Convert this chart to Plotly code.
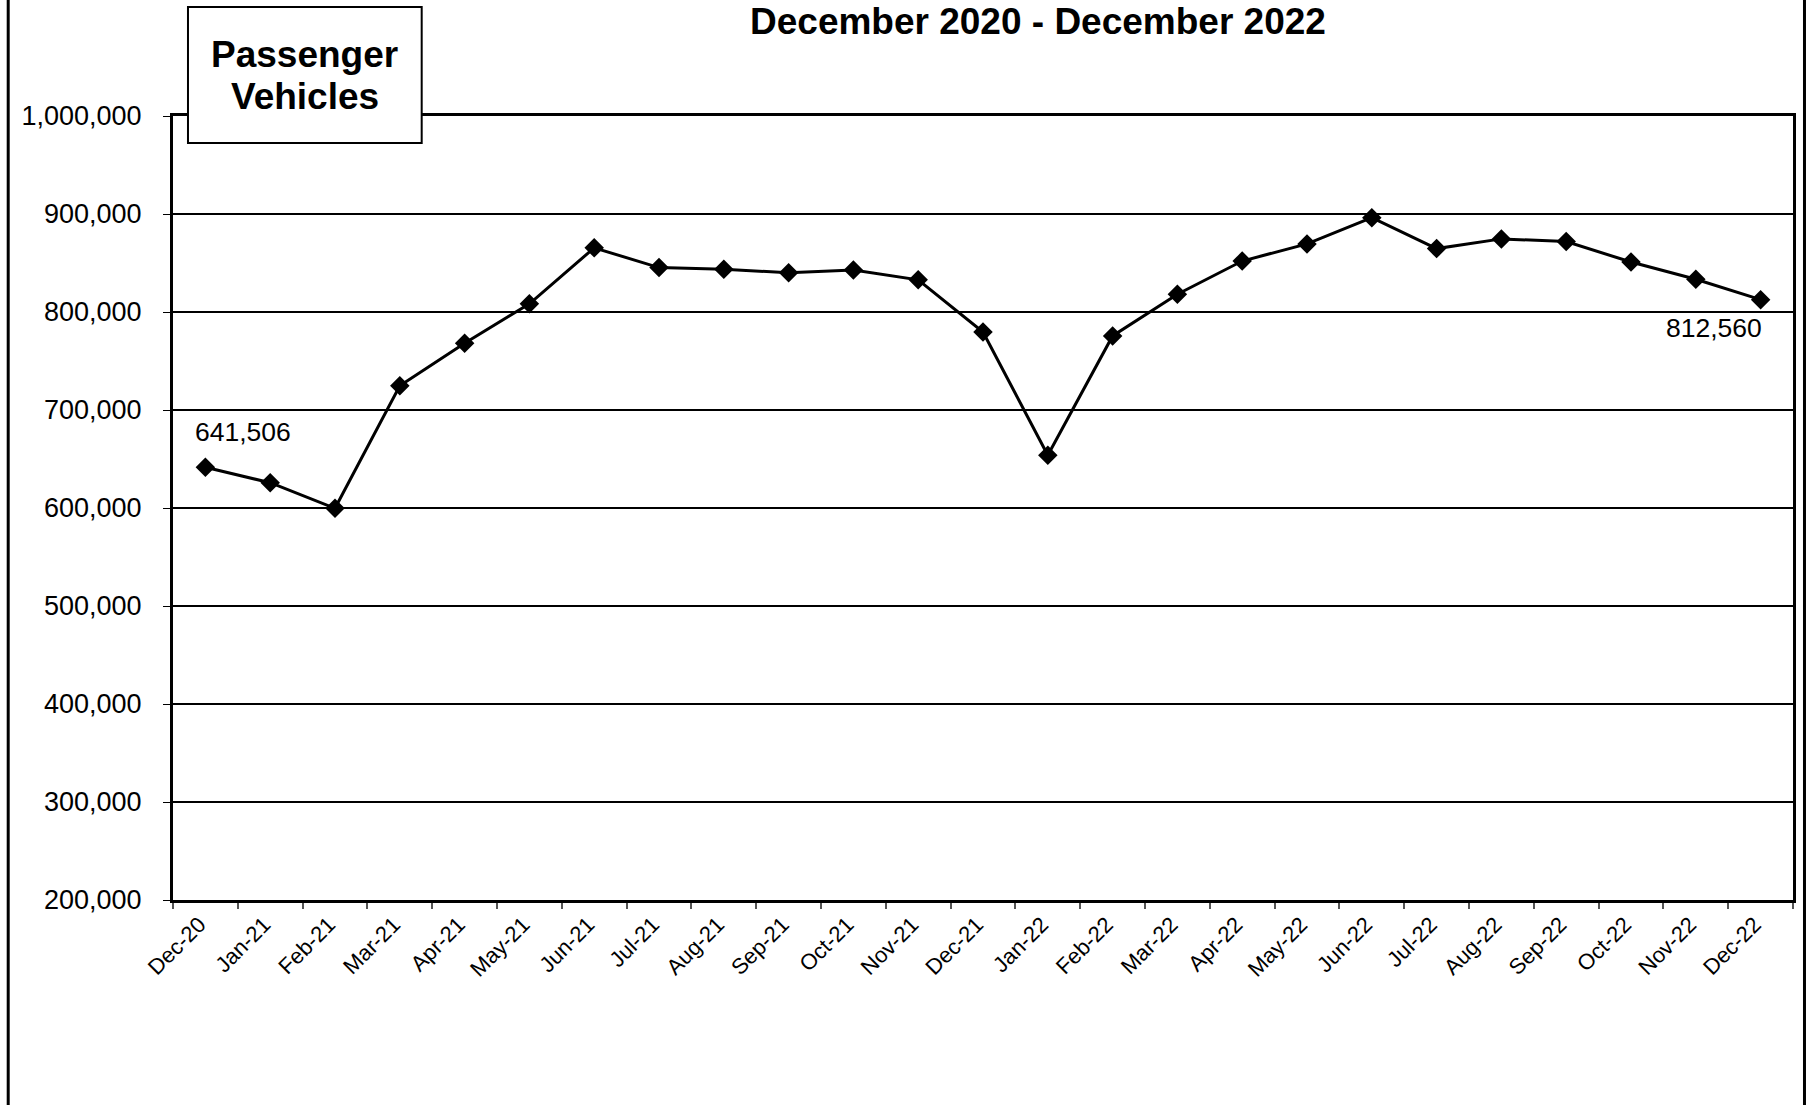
import plotly.graph_objects as go

# Monthly passenger vehicle totals
months = [
    "Dec-20", "Jan-21", "Feb-21", "Mar-21", "Apr-21", "May-21", "Jun-21",
    "Jul-21", "Aug-21", "Sep-21", "Oct-21", "Nov-21", "Dec-21", "Jan-22",
    "Feb-22", "Mar-22", "Apr-22", "May-22", "Jun-22", "Jul-22", "Aug-22",
    "Sep-22", "Oct-22", "Nov-22", "Dec-22",
]
passenger_vehicles = [
    641506, 625800, 599700, 724800, 768200, 808400, 865500,
    845300, 843700, 840000, 842900, 832800, 779500, 653900,
    775600, 818100, 852000, 869500, 896300, 864700, 874600,
    871900, 851000, 833400, 812560,
]
y_ticks = [200000, 300000, 400000, 500000, 600000, 700000, 800000, 900000, 1000000]

title_text = "December 2020 - December 2022"
box_lines = ["Passenger", "Vehicles"]

FONT = "Arial, Liberation Sans, sans-serif"

# page geometry (pixels)
W, H = 1808, 1105
PL, PR, PT, PB = 173, 1795, 116, 900


def px_x(p):
    return (p - PL) / (PR - PL)


def px_y(p):
    return (PB - p) / (PB - PT)


fig = go.Figure()
fig.add_trace(go.Scatter(
    x=months,
    y=passenger_vehicles,
    mode="lines+markers",
    line=dict(color="black", width=3),
    marker=dict(symbol="diamond", size=15, color="black"),
    showlegend=False,
    cliponaxis=False,
))

# value labels on first and last month
first_v, last_v = passenger_vehicles[0], passenger_vehicles[-1]
annotations = [
    dict(x=months[0], y=first_v, xref="x", yref="y", text=f"{first_v:,}",
         showarrow=False, xanchor="left", yanchor="bottom", xshift=-12, yshift=18,
         font=dict(family=FONT, size=26.5, color="black")),
    dict(x=months[-1], y=last_v, xref="x", yref="y", text=f"{last_v:,}",
         showarrow=False, xanchor="right", yanchor="top", xshift=3, yshift=-11,
         font=dict(family=FONT, size=26.5, color="black")),
    dict(x=px_x(1039), y=px_y(22), xref="paper", yref="paper", text=f"<b>{title_text}</b>",
         showarrow=False, xanchor="center", yanchor="middle",
         font=dict(family=FONT, size=37, color="black")),
]
for line_text, cy in zip(box_lines, [54, 97]):
    annotations.append(dict(
        x=px_x(305), y=px_y(cy), xref="paper", yref="paper", text=f"<b>{line_text}</b>",
        showarrow=False, xanchor="center", yanchor="middle",
        font=dict(family=FONT, size=37, color="black")))

shapes = [
    # label box
    dict(type="rect", xref="paper", yref="paper",
         x0=px_x(188), x1=px_x(422), y0=px_y(143), y1=px_y(7),
         line=dict(color="black", width=2), fillcolor="white", layer="above"),
    # outer chart frame
    dict(type="line", xref="paper", yref="paper",
         x0=px_x(8), x1=px_x(8), y0=px_y(-5), y1=px_y(H + 5),
         line=dict(color="black", width=3)),
    dict(type="line", xref="paper", yref="paper",
         x0=px_x(1806.5), x1=px_x(1806.5), y0=px_y(-5), y1=px_y(H + 5),
         line=dict(color="black", width=3)),
]

fig.update_layout(
    width=W, height=H,
    margin=dict(l=PL, r=W - PR, t=PT, b=H - PB, pad=0),
    paper_bgcolor="white",
    plot_bgcolor="white",
    font=dict(family=FONT, color="black"),
    annotations=annotations,
    shapes=shapes,
    xaxis=dict(
        type="category",
        range=[-0.5, len(months) - 0.5],
        tickson="boundaries",
        ticks="outside", ticklen=6, tickwidth=2, tickcolor="#555555",
        tickangle=-45,
        ticklabelshift=-6,
        tickfont=dict(family=FONT, size=22, color="black"),
        showgrid=False,
        showline=True, linecolor="black", linewidth=3, mirror=True,
        zeroline=False,
    ),
    yaxis=dict(
        range=[200000, 1000000],
        tickvals=y_ticks,
        tickformat=",",
        ticks="outside", ticklen=7, tickwidth=1, tickcolor="black",
        ticklabelstandoff=16,
        tickfont=dict(family=FONT, size=27, color="black"),
        showgrid=True, gridcolor="black", gridwidth=2,
        showline=True, linecolor="black", linewidth=3, mirror=True,
        zeroline=False,
    ),
)

fig.write_html("out.html")
